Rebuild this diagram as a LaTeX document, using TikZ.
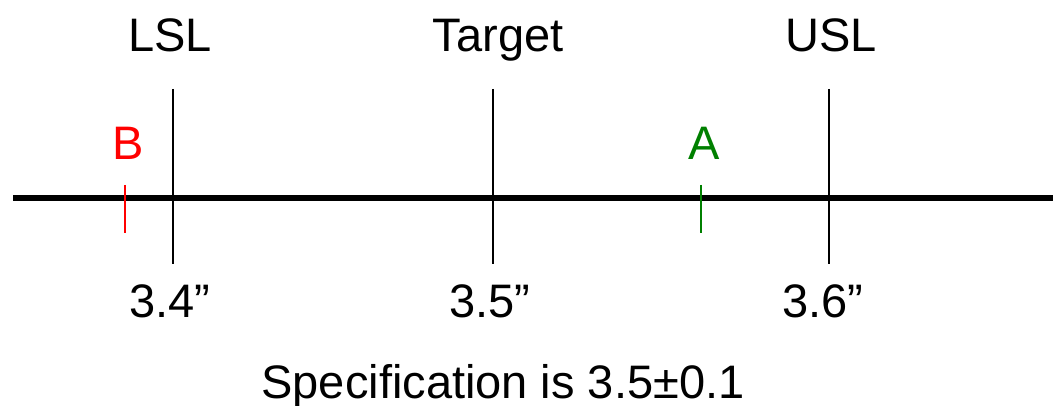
\documentclass[tikz,border=0pt]{standalone}
\usepackage{fontspec}
\setmainfont{Liberation Sans}
\definecolor{agreen}{RGB}{0,128,0}
\definecolor{bred}{RGB}{255,0,0}
\begin{document}
\begin{tikzpicture}[x=1pt,y=-1pt,
  lbl/.style={font=\fontsize{47}{52}\selectfont, inner sep=0pt, anchor=base},
  speclimit/.style={line width=2pt, black},
  tickmark/.style={line width=1.8pt}]
\useasboundingbox (0,0) rectangle (1053,406);
% main axis
\coordinate (axL) at (13,198);
\coordinate (axR) at (1053,198);
\draw[line width=5.5pt] (axL) -- (axR);
% spec lines
\coordinate (lslT) at (173,89); \coordinate (lslB) at (173,264);
\coordinate (tgtT) at (493,89); \coordinate (tgtB) at (493,264);
\coordinate (uslT) at (829,89); \coordinate (uslB) at (829,264);
\draw[speclimit] (lslT) -- (lslB);
\draw[speclimit] (tgtT) -- (tgtB);
\draw[speclimit] (uslT) -- (uslB);
% samples
\coordinate (bT) at (125,185); \coordinate (bB) at (125,233);
\coordinate (aT) at (701,185); \coordinate (aB) at (701,233);
\draw[tickmark, bred] (bT) -- (bB);
\draw[tickmark, agreen] (aT) -- (aB);
% labels
\node[lbl] (lsl) at (170,52) {LSL};
\node[lbl] (tgt) at (498,52) {Target};
\node[lbl] (usl) at (831,52) {USL};
\node[lbl, text=bred] (blab) at (128,160) {B};
\node[lbl, text=agreen] (alab) at (704,160) {A};
\node[lbl] (v34) at (170,317) {3.4”};
\node[lbl] (v35) at (490,317) {3.5”};
\node[lbl] (v36) at (823,317) {3.6”};
\node[lbl] (spec) at (503,398) {Specification is 3.5±0.1};
\end{tikzpicture}
\end{document}
